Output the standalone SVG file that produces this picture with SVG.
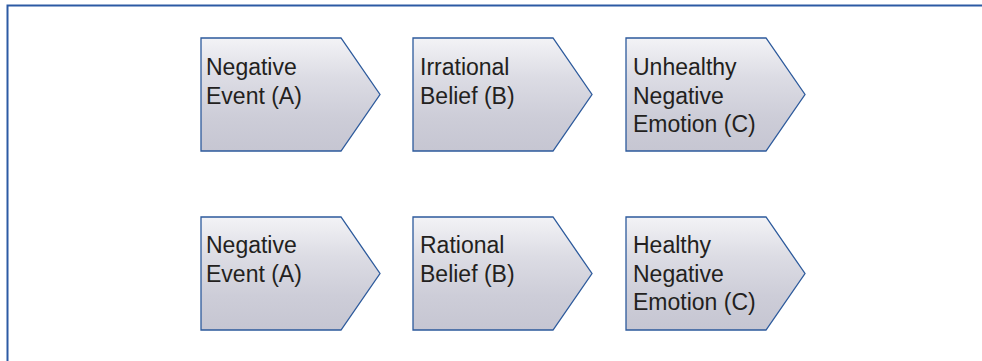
<svg xmlns="http://www.w3.org/2000/svg" width="982" height="361" viewBox="0 0 982 361">
<defs>
<linearGradient id="metal" x1="0" y1="0" x2="0" y2="1">
<stop offset="0" stop-color="#f3f3f6"/>
<stop offset="0.35" stop-color="#dcdce4"/>
<stop offset="0.7" stop-color="#cdcdd8"/>
<stop offset="1" stop-color="#c6c6d2"/>
</linearGradient>
<style>
.chev{fill:url(#metal);stroke:#2d5a9c;stroke-width:1.3;stroke-linejoin:miter}
.lbl{font-family:"Liberation Sans",Arial,sans-serif;font-size:23px;fill:#231f20}
</style>
</defs>
<rect x="0" y="0" width="982" height="361" fill="#ffffff"/>
<rect x="7.5" y="5.5" width="990" height="370" fill="none" stroke="#2c5aa4" stroke-width="2"/>
<g id="connectors"></g>
<g id="n1"><path class="chev" d="M201,38 H341 L380,94.5 L341,151 H201 Z"/><text class="lbl" x="206" y="75">Negative</text><text class="lbl" x="206" y="103.5">Event (A)</text></g>
<g id="n2"><path class="chev" d="M413,38 H553 L592,94.5 L553,151 H413 Z"/><text class="lbl" x="420" y="75">Irrational</text><text class="lbl" x="420" y="103.5">Belief (B)</text></g>
<g id="n3"><path class="chev" d="M626,38 H766 L805,94.5 L766,151 H626 Z"/><text class="lbl" x="633" y="75">Unhealthy</text><text class="lbl" x="633" y="103.5">Negative</text><text class="lbl" x="633" y="132">Emotion (C)</text></g>
<g id="n4"><path class="chev" d="M201,217 H341 L380,273.5 L341,330 H201 Z"/><text class="lbl" x="206" y="253">Negative</text><text class="lbl" x="206" y="281.5">Event (A)</text></g>
<g id="n5"><path class="chev" d="M413,217 H553 L592,273.5 L553,330 H413 Z"/><text class="lbl" x="420" y="253">Rational</text><text class="lbl" x="420" y="281.5">Belief (B)</text></g>
<g id="n6"><path class="chev" d="M626,217 H766 L805,273.5 L766,330 H626 Z"/><text class="lbl" x="633" y="253">Healthy</text><text class="lbl" x="633" y="281.5">Negative</text><text class="lbl" x="633" y="310">Emotion (C)</text></g>
</svg>
